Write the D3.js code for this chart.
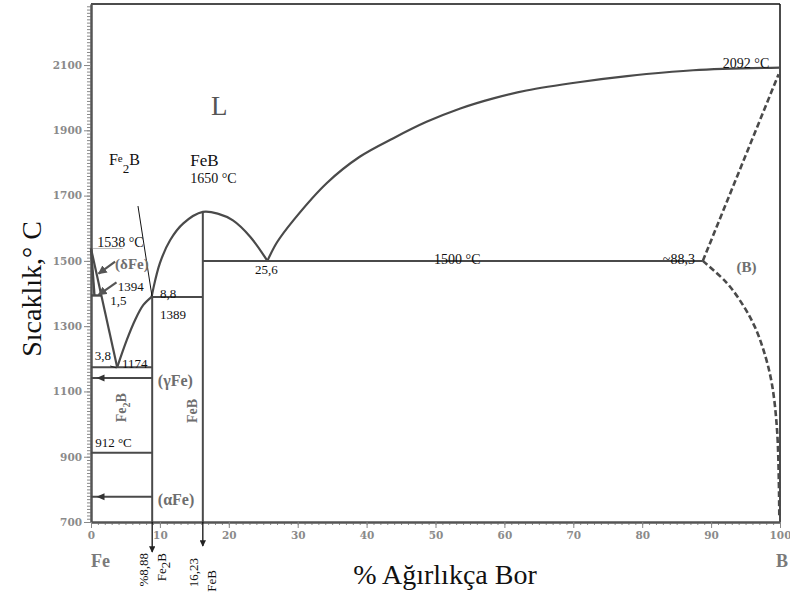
<!DOCTYPE html>
<html><head><meta charset="utf-8">
<script src="https://cdn.jsdelivr.net/npm/d3@7"></script>
<style>body{margin:0;background:#fff}svg{display:block}</style>
</head><body>
<svg id="c" width="790" height="592"></svg>
<script>
// ---- data (wt% B, °C) ----
const xTicks=[0,10,20,30,40,50,60,70,80,90,100];
const yTicks=[700,900,1100,1300,1500,1700,1900,2100];
const feLiquidus=[[0,1538],[3.8,1174]];
const fe2bLiquidus=[[3.8,1174],[5.2,1258],[6.4,1319],[7.6,1365],[8.8,1390]];
const febLiquidus=[[8.8,1389],[9.0,1411],[10.0,1493],[11.5,1564],[13.4,1615],[16.23,1650],[18.5,1644],[20.6,1624],[23.1,1574],[25.6,1500]];
const bLiquidus=[[25.6,1500],[27.0,1557],[29.4,1625],[34.2,1738],[39.0,1819],[43.9,1876],[48.7,1926],[53.6,1967],[58.4,1998],[63.2,2022],[71.0,2048],[77.8,2066],[87.4,2084],[100,2092]];
const bDashedUpper=[[88.8,1500],[99.8,2072]];
const bDashedLower=[[88.8,1500],[92.3,1432],[94.7,1362],[96.3,1300],[97.6,1227],[98.8,1126],[99.6,973],[99.9,715]];
const deltaLines=[[[0,1538],[0.5,1394]],[[0,1394],[1.5,1394]]];
const isotherms=[[16.23,88.8,1500],[8.8,16.23,1389],[0,8.88,1174],[0,8.88,912]];
const compounds=[[8.88,1389],[16.23,1650]];
const phaseArrows=[[1141,"(γFe)"],[777,"(αFe)"]];

const svg=d3.select("#c");
const x=d3.scaleLinear().domain([0,100]).range([91,780]);
const y=d3.scaleLinear().domain([700,2287]).range([522,4]);
const GRAY="#4a4a4a";
const serif="'Liberation Serif','Times New Roman',serif";

svg.append("defs").append("marker").attr("id","ah").attr("viewBox","0 0 10 10")
  .attr("refX",9).attr("refY",5).attr("markerWidth",5).attr("markerHeight",5).attr("orient","auto")
  .append("path").attr("d","M0,0L10,5L0,10z").attr("fill","#222");
svg.select("defs").append("marker").attr("id","ahg").attr("viewBox","0 0 10 10")
  .attr("refX",9).attr("refY",5).attr("markerWidth",4).attr("markerHeight",4).attr("orient","auto")
  .append("path").attr("d","M0,0L10,5L0,10z").attr("fill","#555");

// frame
svg.append("line").attr("x1",x(0)).attr("x2",x(100)).attr("y1",y(2287)).attr("y2",y(2287)).attr("stroke","#111").attr("stroke-width",1.5);
svg.append("line").attr("x1",x(100)).attr("x2",x(100)).attr("y1",y(2287)).attr("y2",y(700)).attr("stroke","#111").attr("stroke-width",1.5);

// axes
const yMinor=svg.append("g").attr("transform",`translate(${x(0)},0)`)
  .call(d3.axisLeft(y).tickValues(d3.range(700,2290,10)).tickSize(4).tickSizeOuter(0).tickFormat(""));
const yMajor=svg.append("g").attr("transform",`translate(${x(0)},0)`)
  .call(d3.axisLeft(y).tickValues(yTicks).tickSize(7).tickSizeOuter(0).tickPadding(2).tickFormat(d3.format("d")));
const xMinor=svg.append("g").attr("transform",`translate(0,${y(700)})`)
  .call(d3.axisBottom(x).tickValues(d3.range(0,101,1)).tickSize(3).tickSizeOuter(0).tickFormat(""));
const xMajor=svg.append("g").attr("transform",`translate(0,${y(700)})`)
  .call(d3.axisBottom(x).tickValues(xTicks).tickSize(6).tickSizeOuter(0).tickPadding(4));
[yMinor,yMajor,xMinor,xMajor].forEach(g=>{
  g.selectAll("path").attr("stroke","#555").attr("stroke-width",2);
  g.selectAll("line").attr("stroke","#888").attr("stroke-width",1);
  g.selectAll("text").attr("fill","#8a8a8a").attr("font-family","'DejaVu Serif',serif")
   .attr("font-weight","bold").attr("font-size",10.5);
});

// phase boundaries
const line=d3.line().x(d=>x(d[0])).y(d=>y(d[1]));
const draw=(data,curve,dash,w)=>svg.append("path").datum(data)
  .attr("d",line.curve(curve)(data)).attr("fill","none").attr("stroke",GRAY)
  .attr("stroke-width",w||2.2).attr("stroke-dasharray",dash||null).attr("stroke-linejoin","round");
const smooth=d3.curveCatmullRom.alpha(0.5);
draw(feLiquidus,d3.curveLinear);
draw(fe2bLiquidus,smooth);
draw(febLiquidus,smooth);
draw(bLiquidus,smooth);
draw(bDashedUpper,d3.curveLinear,"6,3",2.6);
draw(bDashedLower,smooth,"6,3",2.6);
deltaLines.forEach(l=>draw(l,d3.curveLinear,null,2.4));
isotherms.forEach(d=>draw([[d[0],d[2]],[d[1],d[2]]],d3.curveLinear,null,2));
compounds.forEach(d=>draw([[d[0],d[1]],[d[0],700]],d3.curveLinear,null,2));

// phase arrows (γFe, αFe)
phaseArrows.forEach(([t,lab])=>{
  draw([[0,t],[8.88,t]],d3.curveLinear,null,2);
  svg.append("path").attr("d",`M${x(0.8)},${y(t)}l8,-3.5l0,7z`).attr("fill","#333");
  svg.append("text").attr("x",x(9.7)).attr("y",y(t)+8).text(lab)
    .attr("font-family",serif).attr("font-weight","bold").attr("font-size",16).attr("fill","#6e6e6e");
});

// compound arrows below the axis
compounds.forEach((d,i)=>{
  svg.append("line").attr("x1",x(d[0])).attr("x2",x(d[0])).attr("y1",y(700)).attr("y2",i?546:552)
    .attr("stroke","#111").attr("stroke-width",1.3).attr("marker-end","url(#ah)");
});

// leaders
const lead=(p1,p2,col,w,mk)=>svg.append("line").attr("x1",x(p1[0])).attr("y1",y(p1[1]))
  .attr("x2",x(p2[0])).attr("y2",y(p2[1])).attr("stroke",col).attr("stroke-width",w)
  .attr("marker-end",mk?`url(#${mk})`:null);
lead([6.82,1668],[8.85,1392],"#111",1);
lead([0.3,1538],[4.6,1538],"#bbb",1);
lead([3.5,1498],[1.1,1461],"#555",2.2,"ahg");
lead([3.7,1434],[1.1,1396],"#555",2.2,"ahg");
lead([2.8,1178],[3.7,1172],"#222",1);

// text annotations
const txt=(s,px,py,o={})=>{
  const t=svg.append("text").attr("x",px).attr("y",py).attr("font-family",serif)
    .attr("font-size",o.size||13).attr("fill",o.fill||"#111").attr("font-weight",o.bold?"bold":null)
    .attr("text-anchor",o.anchor||"start");
  if(o.rot) t.attr("transform",`rotate(-90,${px},${py})`);
  return t.text(s);
};
txt("L",x(17.4),y(1946),{size:27,fill:"#555"});
txt("2092 °C",x(91.7),y(2092),{size:14});
txt("FeB",x(14.4),y(1792),{size:17});
txt("1650 °C",x(14.4),y(1740),{size:14});
const f2=txt("",x(2.6),y(1794),{size:16});
f2.append("tspan").text("F");
f2.append("tspan").attr("font-size",11).attr("dy",-3).text("e");
f2.append("tspan").attr("font-size",13).attr("dy",11).text("2");
f2.append("tspan").attr("dy",-8).text("B");
txt("1538 °C",x(0.9),y(1542),{size:14});
txt("(δFe)",x(3.5),y(1475),{size:15,bold:true,fill:"#707070"});
txt("1394",x(3.9),y(1407),{size:13});
txt("1,5",x(2.8),y(1364),{size:13});
txt("8,8",x(10.0),y(1386),{size:13});
txt("1389",x(10.0),y(1322),{size:13});
txt("25,6",x(23.8),y(1460),{size:13});
txt("1500 °C",x(49.8),y(1490),{size:14});
txt("~88,3",x(83),y(1490),{size:14});
txt("(B)",x(93.7),y(1466),{size:15,bold:true,fill:"#707070"});
txt("3,8",x(0.55),y(1196),{size:13});
txt("1174",x(4.5),y(1172),{size:13});
txt("912 °C",x(0.6),y(931),{size:13});
const r1=txt("",x(5.1),y(1050),{size:14,bold:true,fill:"#6e6e6e",rot:true,anchor:"middle"});
r1.append("tspan").text("Fe");r1.append("tspan").attr("font-size",10).attr("dy",4).text("2");r1.append("tspan").attr("dy",-4).text("B");
txt("FeB",x(15.4),y(1040),{size:14,bold:true,fill:"#6e6e6e",rot:true,anchor:"middle"});
// below-axis compound labels
txt("%8,88",148,553,{size:13,rot:true,anchor:"end"});
const r2=txt("",166,553,{size:13,rot:true,anchor:"end"});
r2.append("tspan").text("Fe");r2.append("tspan").attr("dy",4).text("2");r2.append("tspan").attr("dy",-4).text("B");
txt("16,23",198,558,{size:13,rot:true,anchor:"end"});
txt("FeB",216,570,{size:13,rot:true,anchor:"end"});
// end labels and titles
txt("Fe",91,567,{size:18,bold:true,fill:"#7a7a7a"});
txt("B",776,567,{size:18,bold:true,fill:"#7a7a7a"});
txt("% Ağırlıkça Bor",445,584,{size:28,anchor:"middle"});
txt("Sıcaklık,° C",41,289,{size:28,anchor:"middle",rot:true});
</script>
</body></html>
